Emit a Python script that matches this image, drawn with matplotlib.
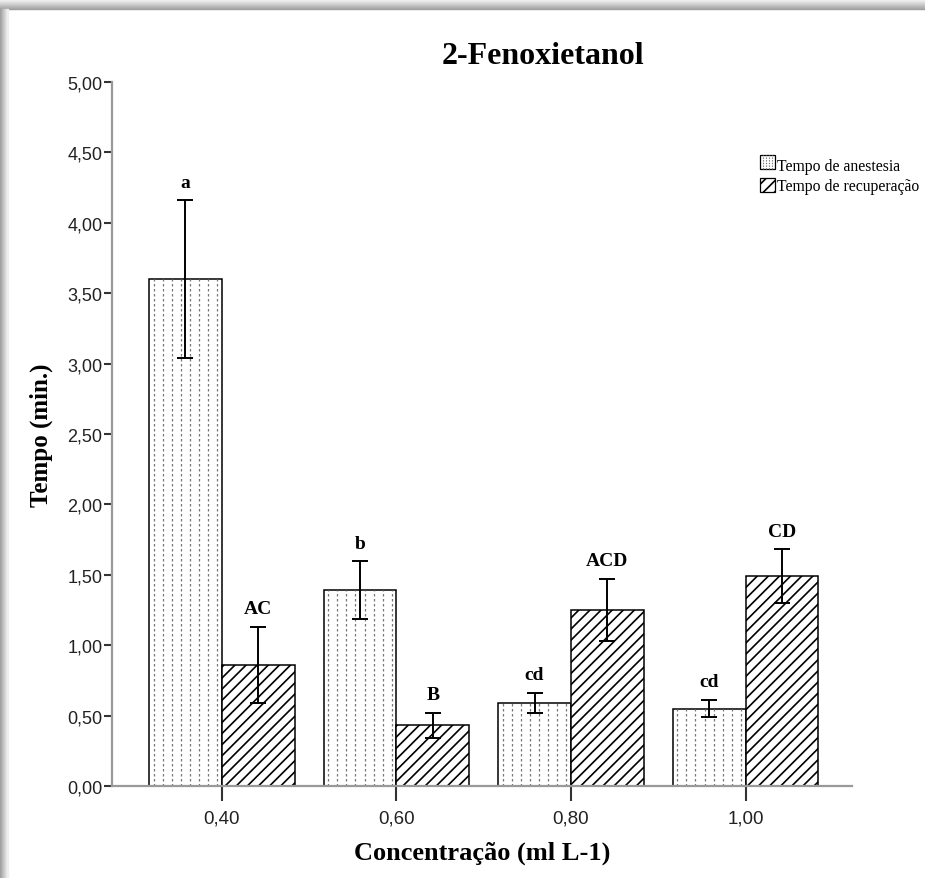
import numpy as np
import matplotlib
matplotlib.use("Agg")
import matplotlib.pyplot as plt
from matplotlib.patches import Rectangle
from matplotlib.lines import Line2D

# data
concentracoes = ["0,40", "0,60", "0,80", "1,00"]
anestesia = [3.60, 1.39, 0.59, 0.55]
anestesia_err = [0.56, 0.205, 0.07, 0.06]
recuperacao = [0.86, 0.43, 1.25, 1.49]
recuperacao_err = [0.27, 0.09, 0.22, 0.19]
letras_anestesia = ["a", "b", "cd", "cd"]
letras_recuperacao = ["AC", "B", "ACD", "CD"]
yticks = [0.0, 0.5, 1.0, 1.5, 2.0, 2.5, 3.0, 3.5, 4.0, 4.5, 5.0]

serif = ["Liberation Serif", "DejaVu Serif"]
sans = ["Liberation Sans", "DejaVu Sans"]
plt.rcParams["hatch.linewidth"] = 1.2


class DottedHandler:
    # legend square with vertical dotted lines like the bars
    def legend_artist(self, legend, orig_handle, fontsize, handlebox):
        x0, y0 = handlebox.xdescent, handlebox.ydescent
        w, h = handlebox.width, handlebox.height
        tr = handlebox.get_transform()
        rect = Rectangle((x0, y0), w, h, facecolor="white", edgecolor="black",
                         lw=0.9, transform=tr)
        handlebox.add_artist(rect)
        for k in range(1, 5):
            xx = x0 + w * k / 5
            handlebox.add_artist(Line2D([xx, xx], [y0, y0 + h], color="#777777",
                                        lw=0.8, ls=(0, (1.2, 1.2)), transform=tr))
        return rect


fig = plt.figure(figsize=(9.25, 8.79), dpi=100)

# grey shadow frame on the left and top
for i in range(10):
    g = 0.62 + 0.035 * i
    fig.patches.append(Rectangle((0, 1 - (10 - i) / 879), 1, 1 / 879,
                                 transform=fig.transFigure, color=str(min(g, 1)), zorder=0))
for i in range(8):
    g = 0.62 + 0.045 * i
    fig.patches.append(Rectangle((i / 925, 0), 1 / 925, 1 - 10 / 879,
                                 transform=fig.transFigure, color=str(min(g, 1)), zorder=0))

ax = fig.add_axes([112 / 925, 1 - 787 / 879, 740 / 925, 704 / 879])
ax.patch.set_alpha(0)

x = np.arange(len(concentracoes))
w = 0.418
bars_a = ax.bar(x - w / 2, anestesia, w, facecolor="white", edgecolor="black",
                lw=1.1, zorder=2)
bars_r = ax.bar(x + w / 2, recuperacao, w, facecolor="white", edgecolor="black",
                lw=1.1, hatch="///", zorder=2)

# dotted vertical pattern inside anesthesia bars
step = w / 8
for b in bars_a:
    xs = b.get_x() + step / 2 + step * np.arange(8)
    ax.vlines(xs, 0, b.get_height(), colors="#777777", lw=0.9,
              linestyles=(0, (2, 2)), zorder=2.5)

ax.errorbar(x - w / 2, anestesia, yerr=anestesia_err, fmt="none", ecolor="black",
            elinewidth=1.4, capsize=6, capthick=1.4, zorder=3)
ax.errorbar(x + w / 2, recuperacao, yerr=recuperacao_err, fmt="none", ecolor="black",
            elinewidth=1.4, capsize=6, capthick=1.4, zorder=3)

for xi, v, e, t in zip(x - w / 2, anestesia, anestesia_err, letras_anestesia):
    ax.annotate(t, (xi, v + e), xytext=(0, 7), textcoords="offset points",
                ha="center", va="bottom", fontsize=14, fontweight="bold", family=serif)
for xi, v, e, t in zip(x + w / 2, recuperacao, recuperacao_err, letras_recuperacao):
    ax.annotate(t, (xi, v + e), xytext=(0, 7), textcoords="offset points",
                ha="center", va="bottom", fontsize=14, fontweight="bold", family=serif)

ax.set_xlim(-0.63, 3.61)
ax.set_ylim(0, 5)
ax.set_yticks(yticks)
ax.set_yticklabels([f"{v:.2f}".replace(".", ",") for v in yticks], family=sans,
                   fontsize=13, color="#222222")
ax.set_xticks(x)
ax.set_xticklabels(concentracoes, family=sans, fontsize=13.5, color="#222222")

for s in ["top", "right"]:
    ax.spines[s].set_visible(False)
ax.spines["left"].set_color("#999999")
ax.spines["left"].set_linewidth(1.6)
ax.spines["bottom"].set_color("#999999")
ax.spines["bottom"].set_linewidth(1.6)
ax.tick_params(axis="y", length=6, width=1.5, color="#333333", pad=1)
ax.tick_params(axis="x", length=11, width=1.5, color="#333333", pad=6)

ax.set_xlabel("Concentração (ml L-1)", family=serif, fontweight="bold", fontsize=19, labelpad=10)
ax.set_ylabel("Tempo (min.)", family=serif, fontweight="bold", fontsize=18, labelpad=10)
fig.text(543 / 925, 1 - 56 / 879, "2-Fenoxietanol", family=serif, fontweight="bold",
         fontsize=23, ha="center", va="center")

h_a = Rectangle((0, 0), 1, 1)
h_r = Rectangle((0, 0), 1, 1, facecolor="white", edgecolor="black", hatch="///", lw=0.9)
ax.legend([h_a, h_r], ["Tempo de anestesia", "Tempo de recuperação"],
          handler_map={h_a: DottedHandler()}, loc="upper left",
          bbox_to_anchor=(760 / 925, 1 - 159 / 879), bbox_transform=fig.transFigure,
          frameon=False, prop={"family": serif, "size": 11.3}, borderpad=0,
          handlelength=0.95, handleheight=0.95, handletextpad=0.12, labelspacing=0.25,
          borderaxespad=0)

fig.savefig("out.png", dpi=100)
